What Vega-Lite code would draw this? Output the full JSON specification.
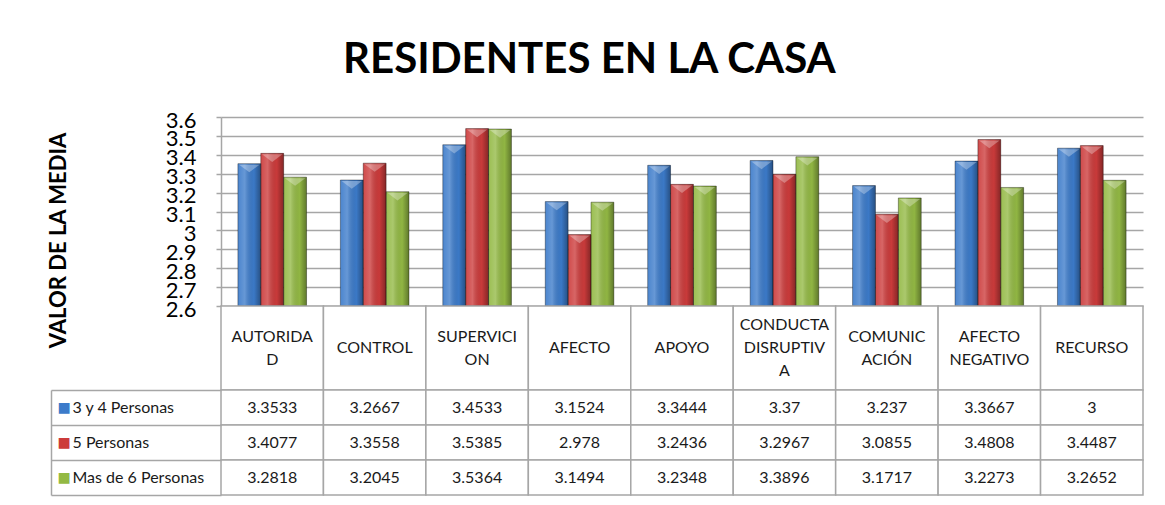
{
  "$schema": "https://vega.github.io/schema/vega-lite/v6.json",
  "background": "white",
  "padding": {"left": 47, "top": 39, "right": 5, "bottom": 5},
  "bounds": "flush",
  "spacing": 0,
  "title": {"text": "RESIDENTES EN LA CASA", "font": "Lato", "fontSize": 42, "fontWeight": "bold", "color": "#000000", "anchor": "middle", "offset": 27, "dx": -6},
  "config": {"view": {"stroke": null}},
  "datasets": {
    "dimensiones": [
      {"dimension": "AUTORIDAD", "etiqueta": "AUTORIDA\nD"},
      {"dimension": "CONTROL", "etiqueta": "CONTROL"},
      {"dimension": "SUPERVICION", "etiqueta": "SUPERVICI\nON"},
      {"dimension": "AFECTO", "etiqueta": "AFECTO"},
      {"dimension": "APOYO", "etiqueta": "APOYO"},
      {"dimension": "CONDUCTA DISRUPTIVA", "etiqueta": "CONDUCTA\nDISRUPTIV\nA"},
      {"dimension": "COMUNICACIÓN", "etiqueta": "COMUNIC\nACIÓN"},
      {"dimension": "AFECTO NEGATIVO", "etiqueta": "AFECTO\nNEGATIVO"},
      {"dimension": "RECURSO", "etiqueta": "RECURSO"}
    ],
    "medias": [
      {"dimension": "AUTORIDAD", "grupo": "3 y 4 Personas", "valor": 3.3533, "texto": "3.3533"},
      {"dimension": "CONTROL", "grupo": "3 y 4 Personas", "valor": 3.2667, "texto": "3.2667"},
      {"dimension": "SUPERVICION", "grupo": "3 y 4 Personas", "valor": 3.4533, "texto": "3.4533"},
      {"dimension": "AFECTO", "grupo": "3 y 4 Personas", "valor": 3.1524, "texto": "3.1524"},
      {"dimension": "APOYO", "grupo": "3 y 4 Personas", "valor": 3.3444, "texto": "3.3444"},
      {"dimension": "CONDUCTA DISRUPTIVA", "grupo": "3 y 4 Personas", "valor": 3.37, "texto": "3.37"},
      {"dimension": "COMUNICACIÓN", "grupo": "3 y 4 Personas", "valor": 3.237, "texto": "3.237"},
      {"dimension": "AFECTO NEGATIVO", "grupo": "3 y 4 Personas", "valor": 3.3667, "texto": "3.3667"},
      {"dimension": "RECURSO", "grupo": "3 y 4 Personas", "valor": 3.435, "texto": "3"},
      {"dimension": "AUTORIDAD", "grupo": "5 Personas", "valor": 3.4077, "texto": "3.4077"},
      {"dimension": "CONTROL", "grupo": "5 Personas", "valor": 3.3558, "texto": "3.3558"},
      {"dimension": "SUPERVICION", "grupo": "5 Personas", "valor": 3.5385, "texto": "3.5385"},
      {"dimension": "AFECTO", "grupo": "5 Personas", "valor": 2.978, "texto": "2.978"},
      {"dimension": "APOYO", "grupo": "5 Personas", "valor": 3.2436, "texto": "3.2436"},
      {"dimension": "CONDUCTA DISRUPTIVA", "grupo": "5 Personas", "valor": 3.2967, "texto": "3.2967"},
      {"dimension": "COMUNICACIÓN", "grupo": "5 Personas", "valor": 3.0855, "texto": "3.0855"},
      {"dimension": "AFECTO NEGATIVO", "grupo": "5 Personas", "valor": 3.4808, "texto": "3.4808"},
      {"dimension": "RECURSO", "grupo": "5 Personas", "valor": 3.4487, "texto": "3.4487"},
      {"dimension": "AUTORIDAD", "grupo": "Mas de 6 Personas", "valor": 3.2818, "texto": "3.2818"},
      {"dimension": "CONTROL", "grupo": "Mas de 6 Personas", "valor": 3.2045, "texto": "3.2045"},
      {"dimension": "SUPERVICION", "grupo": "Mas de 6 Personas", "valor": 3.5364, "texto": "3.5364"},
      {"dimension": "AFECTO", "grupo": "Mas de 6 Personas", "valor": 3.1494, "texto": "3.1494"},
      {"dimension": "APOYO", "grupo": "Mas de 6 Personas", "valor": 3.2348, "texto": "3.2348"},
      {"dimension": "CONDUCTA DISRUPTIVA", "grupo": "Mas de 6 Personas", "valor": 3.3896, "texto": "3.3896"},
      {"dimension": "COMUNICACIÓN", "grupo": "Mas de 6 Personas", "valor": 3.1717, "texto": "3.1717"},
      {"dimension": "AFECTO NEGATIVO", "grupo": "Mas de 6 Personas", "valor": 3.2273, "texto": "3.2273"},
      {"dimension": "RECURSO", "grupo": "Mas de 6 Personas", "valor": 3.2652, "texto": "3.2652"}
    ]
  },
  "vconcat": [
    {
      "data": {"name": "medias"},
      "width": 922,
      "height": 189,
      "encoding": {
        "x": {"field": "dimension", "type": "nominal", "sort": null, "axis": null, "scale": {"paddingInner": 0.33, "paddingOuter": 0.165}},
        "xOffset": {"field": "grupo", "type": "nominal", "sort": null, "scale": {"paddingInner": 0, "paddingOuter": 0}},
        "y": {
          "field": "valor", "type": "quantitative",
          "scale": {"domain": [2.6, 3.6], "zero": false, "nice": false},
          "axis": {
            "title": "VALOR DE LA MEDIA",
            "values": [2.6, 2.7, 2.8, 2.9, 3, 3.1, 3.2, 3.3, 3.4, 3.5, 3.6],
            "format": ".2~f",
            "grid": true, "gridColor": "#a6a6a6", "gridWidth": 1.5,
            "domainColor": "#a6a6a6", "domainWidth": 1.5,
            "tickColor": "#a6a6a6", "tickSize": 5, "tickWidth": 1.5,
            "labelFont": "Lato", "labelFontSize": 22, "labelColor": "#000000",
            "labelPadding": 20, "labelOverlap": false, "labelOffset": 3, "labelBaseline": "middle",
            "titleFont": "Lato", "titleFontSize": 22, "titleFontWeight": "bold", "titleColor": "#000000",
            "titleX": -156, "titleY": 123, "titleAlign": "center", "titleBaseline": "alphabetic", "titleAngle": 270
          }
        }
      },
      "layer": [
        {
          "mark": {"type": "bar"},
          "encoding": {
            "y2": {"datum": 2.6},
            "color": {"field": "grupo", "type": "nominal", "legend": null,
              "scale": {"domain": ["3 y 4 Personas", "5 Personas", "Mas de 6 Personas"], "range": ["#3c7bca", "#cc3b3b", "#93b944"]}}
          }
        },
        {
          "mark": {"type": "bar", "stroke": "rgba(0,0,0,0.35)", "strokeWidth": 1,
            "fill": {"gradient": "linear", "x1": 0, "x2": 1, "y1": 0, "y2": 0,
              "stops": [
                {"offset": 0, "color": "rgba(255,255,255,0.08)"},
                {"offset": 0.3, "color": "rgba(255,255,255,0.22)"},
                {"offset": 0.7, "color": "rgba(0,0,0,0.02)"},
                {"offset": 1, "color": "rgba(0,0,0,0.35)"}
              ]}},
          "encoding": {"y2": {"datum": 2.6}}
        },
        {
          "mark": {"type": "point", "shape": "M-1,0L1,0L0,0.75Z", "size": 420, "filled": true, "fill": "white", "fillOpacity": 0.3, "strokeWidth": 0, "yOffset": 1}
        }
      ]
    },
    {
      "data": {"name": "dimensiones"},
      "width": 922,
      "height": 84,
      "encoding": {
        "x": {"field": "dimension", "type": "nominal", "sort": null, "axis": null, "scale": {"paddingInner": 0, "paddingOuter": 0}},
        "text": {"field": "etiqueta"}
      },
      "layer": [
        {"mark": {"type": "rect", "fill": "white", "stroke": "#a6a6a6", "strokeWidth": 1.5}, "encoding": {"text": null}},
        {
          "transform": [{"filter": "length(split(datum.etiqueta, '\\n')) == 1"}],
          "mark": {"type": "text", "font": "Lato", "fontSize": 16, "lineBreak": "\n", "lineHeight": 23, "color": "#1a1a1a"}
        },
        {
          "transform": [{"filter": "length(split(datum.etiqueta, '\\n')) == 2"}],
          "mark": {"type": "text", "font": "Lato", "fontSize": 16, "lineBreak": "\n", "lineHeight": 23, "dy": -11.5, "color": "#1a1a1a"}
        },
        {
          "transform": [{"filter": "length(split(datum.etiqueta, '\\n')) == 3"}],
          "mark": {"type": "text", "font": "Lato", "fontSize": 16, "lineBreak": "\n", "lineHeight": 23, "dy": -23, "color": "#1a1a1a"}
        }
      ]
    },
    {
      "data": {"name": "medias"},
      "width": 922,
      "height": 105,
      "resolve": {"axis": {"y": "independent"}},
      "encoding": {
        "x": {"field": "dimension", "type": "nominal", "sort": null, "axis": null, "scale": {"paddingInner": 0, "paddingOuter": 0}}
      },
      "layer": [
        {
          "mark": {"type": "rect", "fill": "white", "stroke": "#a6a6a6", "strokeWidth": 1.5},
          "encoding": {
            "y": {"field": "grupo", "type": "nominal", "sort": null, "scale": {"paddingInner": 0, "paddingOuter": 0},
              "axis": {"title": null, "orient": "left", "domain": false, "tickBand": "extent", "tickSize": 170, "tickColor": "#a6a6a6", "tickWidth": 1.5,
                "labelAlign": "left", "labelPadding": -21, "labelFont": "Lato", "labelFontSize": 16, "labelColor": "#1a1a1a", "labelBaseline": "middle"}}
          }
        },
        {
          "mark": {"type": "text", "font": "Lato", "fontSize": 16, "color": "#1a1a1a"},
          "encoding": {
            "y": {"field": "grupo", "type": "nominal", "sort": null,
              "axis": {"title": null, "orient": "left", "offset": 170, "domain": true, "domainColor": "#a6a6a6", "domainWidth": 1.5, "ticks": false,
                "labelExpr": "'■'", "labelAlign": "left", "labelPadding": -6, "labelFont": "DejaVu Sans", "labelFontSize": 14, "labelBaseline": "middle",
                "labelColor": {"condition": [{"test": "datum.value === '5 Personas'", "value": "#cc3b3b"}, {"test": "datum.value === 'Mas de 6 Personas'", "value": "#93b944"}], "value": "#3c7bca"}}},
            "text": {"field": "texto"}
          }
        }
      ]
    }
  ]
}
